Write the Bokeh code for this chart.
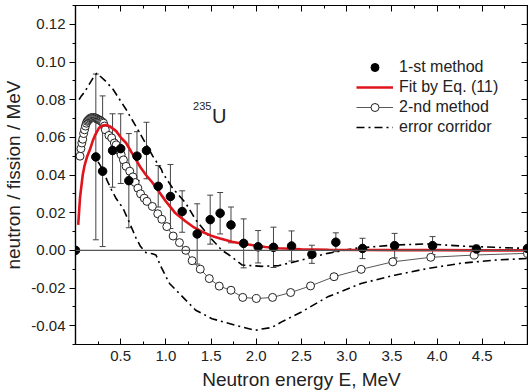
from bokeh.plotting import figure
from bokeh.models import (Range1d, FixedTicker, NumeralTickFormatter, LinearAxis, Span,
                          Whisker, TeeHead, ColumnDataSource, Legend, LegendItem, Label,
                          CustomJSTickFormatter)
from bokeh.embed import file_html
from bokeh.resources import INLINE

# ---------------- data ----------------
m1_E = [0.0, 0.225, 0.30, 0.41, 0.50, 0.59, 0.68, 0.785, 0.915, 1.05, 1.18, 1.346, 1.49,
        1.60, 1.72, 1.86, 2.02, 2.19, 2.39, 2.615, 2.88, 3.175, 3.53, 3.95, 4.435, 5.0]
m1_y = [0.0, 0.0496, 0.042, 0.053, 0.054, 0.037, 0.050, 0.053, 0.034, 0.0286, 0.0206, 0.0087,
        0.0163, 0.0197, 0.0135, 0.0037, 0.0019, 0.0016, 0.0023, -0.0021, 0.0043, 0.0010,
        0.0025, 0.0025, 0.0007, 0.0010]
m1_err = [0.0, 0.044, 0.040, 0.0195, 0.0185, 0.025, 0.013, 0.015, 0.011, 0.017, 0.011, 0.016,
          0.013, 0.011, 0.0095, 0.013, 0.0086, 0.0107, 0.008, 0.0048, 0.005, 0.0054, 0.0065,
          0.0048, 0.002, 0.0]

m2_E = [0.05, 0.06, 0.07, 0.08, 0.09, 0.10, 0.11, 0.12, 0.13, 0.14, 0.15, 0.16, 0.17, 0.18,
        0.19, 0.20, 0.21, 0.22, 0.23, 0.24, 0.25, 0.26, 0.27, 0.28, 0.29, 0.30, 0.31, 0.32,
        0.33, 0.37, 0.40, 0.43, 0.45, 0.48, 0.505, 0.53, 0.56, 0.60, 0.635, 0.66, 0.69, 0.72,
        0.76, 0.79, 0.85, 0.91, 0.955, 1.01, 1.08, 1.15, 1.22, 1.29, 1.38, 1.48, 1.59, 1.72,
        1.85, 2.00, 2.18, 2.38, 2.60, 2.86, 3.16, 3.51, 3.93, 4.41, 5.0]
m2_y = [0.050, 0.054, 0.057, 0.059, 0.062, 0.064, 0.066, 0.0675, 0.0685, 0.069, 0.0695, 0.070,
        0.0703, 0.0705, 0.0705, 0.0705, 0.0704, 0.0703, 0.070, 0.0698, 0.0695, 0.0692, 0.069,
        0.0687, 0.0683, 0.068, 0.0675, 0.066, 0.064, 0.061, 0.0597, 0.057, 0.056, 0.053,
        0.0508, 0.048, 0.0446, 0.042, 0.039, 0.036, 0.033, 0.030, 0.0277, 0.026, 0.0233,
        0.0194, 0.0165, 0.0126, 0.0076, 0.0041, 0.0, -0.0055, -0.010, -0.015, -0.019, -0.0212,
        -0.025, -0.0256, -0.025, -0.0224, -0.0189, -0.014, -0.0101, -0.0061, -0.0037, -0.0025,
        -0.0016]

fit_E = [0.03, 0.05, 0.08, 0.10, 0.13, 0.16, 0.19, 0.22, 0.26, 0.30, 0.34, 0.38, 0.45, 0.50,
         0.56, 0.62, 0.67, 0.72, 0.78, 0.85, 0.91, 1.0, 1.1, 1.22, 1.3, 1.4, 1.5, 1.6, 1.73,
         1.85, 1.95, 2.1, 2.25, 2.5, 2.8, 3.2, 3.6, 4.0, 4.5, 5.0]
fit_y = [0.0135, 0.028, 0.040, 0.045, 0.050, 0.0535, 0.058, 0.0615, 0.065, 0.0663, 0.0665,
         0.0658, 0.0633, 0.060, 0.057, 0.052, 0.048, 0.044, 0.040, 0.036, 0.032, 0.026, 0.020,
         0.0153, 0.0125, 0.0099, 0.0078, 0.0063, 0.0046, 0.0035, 0.0028, 0.0018, 0.0011,
         0.0006, 0.0003, 0.0002, 0.0001, 0.0001, 0.0, 0.0]

up_E = [0.04, 0.065, 0.10, 0.15, 0.20, 0.235, 0.27, 0.33, 0.415, 0.56, 0.71, 0.855, 0.95,
        0.965, 1.075, 1.22, 1.33, 1.48, 1.62, 1.70, 1.845, 2.06, 2.25, 2.5, 2.79, 3.08, 3.52,
        3.89, 4.26, 4.63, 5.0]
up_y = [0.080, 0.082, 0.084, 0.088, 0.092, 0.094, 0.0926, 0.090, 0.0855, 0.0748, 0.0624,
        0.050, 0.043, 0.041, 0.033, 0.025, 0.0162, 0.0073, 0.0, -0.0025, -0.0078, -0.0085,
        -0.0081, -0.0052, -0.0016, 0.001, 0.0028, 0.0034, 0.0023, 0.0016, 0.001]

lo_E = [0.25, 0.30, 0.35, 0.40, 0.45, 0.525, 0.60, 0.67, 0.72, 0.78, 0.85, 0.89, 0.945, 1.04,
        1.185, 1.33, 1.51, 1.77, 1.99, 2.06, 2.17, 2.28, 2.5, 2.79, 3.16, 3.53, 3.9, 4.26,
        4.63, 5.0]
lo_y = [0.047, 0.043, 0.037, 0.032, 0.0275, 0.0224, 0.0144, 0.0065, 0.002, -0.0012, -0.0018,
        -0.0025, -0.0087, -0.0176, -0.0247, -0.0318, -0.0363, -0.0398, -0.0425, -0.0418,
        -0.041, -0.038, -0.0327, -0.0247, -0.0176, -0.0132, -0.0096, -0.0069, -0.0052,
        -0.0043]

x_major = [0.5, 1.0, 1.5, 2.0, 2.5, 3.0, 3.5, 4.0, 4.5]
x_minor = [0.25, 0.75, 1.25, 1.75, 2.25, 2.75, 3.25, 3.75, 4.25, 4.75]
y_major = [-0.04, -0.02, 0.0, 0.02, 0.04, 0.06, 0.08, 0.10, 0.12]
y_minor = [-0.05, -0.03, -0.01, 0.01, 0.03, 0.05, 0.07, 0.09, 0.11, 0.13]

FONT = "Liberation Sans"
TXT = "#222222"

p = figure(width=528, height=392, output_backend="svg", toolbar_location=None,
           x_range=Range1d(0, 5.0), y_range=Range1d(-0.05, 0.13),
           min_border_left=71, min_border_right=1, min_border_top=5, min_border_bottom=0)
p.grid.visible = False
p.outline_line_color = "black"
p.outline_line_width = 1.2
p.background_fill_color = "white"

xt = FixedTicker(ticks=x_major, minor_ticks=x_minor)
yt = FixedTicker(ticks=y_major, minor_ticks=y_minor)

xa = p.xaxis[0]
xa.ticker = xt
xa.formatter = NumeralTickFormatter(format="0.0")
xa.axis_label = "Neutron energy E, MeV"
xa.major_tick_in = 6
xa.major_tick_out = 0
xa.minor_tick_in = 3
xa.minor_tick_out = 0
xa.major_label_standoff = 6
xa.axis_label_standoff = 5

ya = p.yaxis[0]
ya.ticker = yt
ya.formatter = NumeralTickFormatter(format="0.00")
ya.axis_label = "neutron / fission / MeV"
ya.major_tick_in = 0
ya.major_tick_out = 6
ya.minor_tick_in = 0
ya.minor_tick_out = 3
ya.major_label_standoff = 4
ya.axis_label_standoff = 4

for ax in (xa, ya):
    ax.major_label_text_font = FONT
    ax.major_label_text_font_size = "15px"
    ax.major_label_text_color = TXT
    ax.axis_label_text_font = FONT
    ax.axis_label_text_font_size = "19px"
    ax.axis_label_text_font_style = "normal"
    ax.axis_label_text_color = TXT
    ax.axis_line_width = 1.2

blank = CustomJSTickFormatter(code="return ''")
top = LinearAxis(ticker=xt, formatter=blank, major_label_text_color=None,
                 major_label_text_font_size="1px", major_label_standoff=0,
                 major_tick_in=6, major_tick_out=0, minor_tick_in=3, minor_tick_out=0,
                 axis_line_width=1.2)
right = LinearAxis(ticker=yt, formatter=blank, major_label_text_color=None,
                   major_label_text_font_size="1px", major_label_standoff=0,
                   major_tick_in=6, major_tick_out=0, minor_tick_in=3, minor_tick_out=0,
                   axis_line_width=1.2)
p.add_layout(top, "above")
p.add_layout(right, "right")

# zero line
p.add_layout(Span(location=0, dimension="width", line_color="#555555", line_width=1.2))

# error corridor
r_up = p.line(up_E, up_y, line_color="black", line_width=1.6, line_dash="8 4 2 4")
r_lo = p.line(lo_E, lo_y, line_color="black", line_width=1.6, line_dash="8 4 2 4")

# 2-nd method
r2l = p.line(m2_E, m2_y, line_color="#444444", line_width=0.9)
r2s = p.scatter(m2_E, m2_y, size=8, marker="circle", fill_color="white",
                line_color="#222222", line_width=1)

# fit
rfit = p.line(fit_E, fit_y, line_color="#e0141c", line_width=2.6)

# 1-st method with error bars
src = ColumnDataSource(dict(x=m1_E, y=m1_y,
                            lo=[a - b for a, b in zip(m1_y, m1_err)],
                            hi=[a + b for a, b in zip(m1_y, m1_err)]))
wh = Whisker(base="x", upper="hi", lower="lo", source=src, line_color="#444444",
             line_width=1,
             upper_head=TeeHead(size=6, line_color="#444444", line_width=1),
             lower_head=TeeHead(size=6, line_color="#444444", line_width=1))
p.add_layout(wh)
r1 = p.scatter("x", "y", source=src, size=8.5, marker="circle", fill_color="black",
               line_color="black")

# legend
legend = Legend(items=[
    LegendItem(label="1-st method", renderers=[r1]),
    LegendItem(label="Fit by Eq. (11)", renderers=[rfit]),
    LegendItem(label="2-nd method", renderers=[r2l, r2s]),
    LegendItem(label="error corridor", renderers=[r_up]),
], location=(281, 207), padding=0, margin=0, spacing=0, glyph_width=37, glyph_height=20,
    label_height=20, label_standoff=6, label_text_font=FONT, label_text_font_size="16px",
    label_text_color=TXT, border_line_alpha=0, background_fill_alpha=0)
p.add_layout(legend, "center")

# isotope label
p.add_layout(Label(x=1.51, y=0.0712, text="U", text_font=FONT, text_font_size="20px",
                   text_color=TXT, text_baseline="alphabetic"))
p.add_layout(Label(x=1.30, y=0.0768, text="235", text_font=FONT, text_font_size="11px",
                   text_color=TXT, text_baseline="alphabetic"))

open("out.html", "w").write(file_html(p, INLINE))
